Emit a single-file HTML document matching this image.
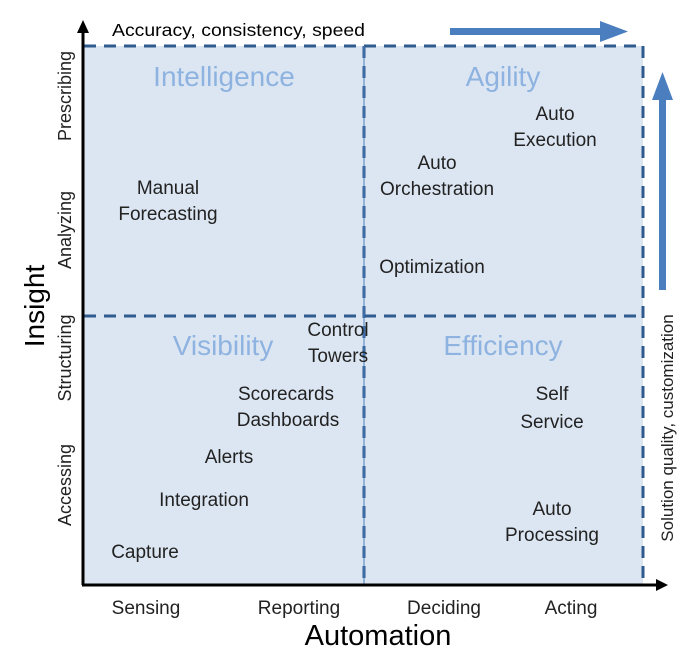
<!DOCTYPE html>
<html><head><meta charset="utf-8"><style>
body{margin:0;background:#fff}
svg text{font-family:"Liberation Sans",sans-serif}
</style></head><body>
<svg width="700" height="659" viewBox="0 0 700 659" xmlns="http://www.w3.org/2000/svg">
<rect x="84" y="46" width="559" height="538" fill="#dce6f2"/>
<g stroke="#2f5b8f" stroke-width="3" stroke-dasharray="12,8" fill="none">
<line x1="84" y1="46" x2="643" y2="46"/>
<line x1="643" y1="46" x2="643" y2="584"/>
<line x1="84" y1="316" x2="643" y2="316"/>
<line x1="364" y1="46" x2="364" y2="584"/>
</g>
<line x1="364" y1="46" x2="364" y2="584" stroke="#4a7ebf" stroke-width="1"/>
<g stroke="#000" stroke-width="3">
<line x1="83" y1="30" x2="83" y2="585"/>
<line x1="82" y1="585" x2="660" y2="585"/>
</g>
<polygon points="83,20 77,33 89,33" fill="#000"/>
<polygon points="668,585 656,579 656,591" fill="#000"/>
<rect x="450" y="28" width="152" height="7" fill="#4a7ebf"/>
<polygon points="600,21 628,31.5 600,42" fill="#4a7ebf"/>
<rect x="659" y="98" width="7" height="192" fill="#4a7ebf"/>
<polygon points="652,100 662.5,72 673,100" fill="#4a7ebf"/>
<text x="112" y="36" font-size="17.5" textLength="253" lengthAdjust="spacingAndGlyphs">Accuracy, consistency, speed</text>
<g font-size="28" fill="#8eb3e0" text-anchor="middle">
<text x="224" y="86">Intelligence</text>
<text x="503" y="86">Agility</text>
<text x="223" y="355">Visibility</text>
<text x="503" y="355">Efficiency</text>
</g>
<g font-size="19" fill="#222" text-anchor="middle">
<text x="555" y="120">Auto</text><text x="555" y="146">Execution</text>
<text x="437" y="169">Auto</text><text x="437" y="195">Orchestration</text>
<text x="168" y="194">Manual</text><text x="168" y="220">Forecasting</text>
<text x="432" y="273">Optimization</text>
<text x="338" y="336">Control</text><text x="338" y="362">Towers</text>
<text x="286" y="400">Scorecards</text><text x="288" y="426">Dashboards</text>
<text x="229" y="463">Alerts</text>
<text x="204" y="506">Integration</text>
<text x="145" y="558">Capture</text>
<text x="552" y="400">Self</text><text x="552" y="428">Service</text>
<text x="552" y="515">Auto</text><text x="552" y="541">Processing</text>
<text x="146" y="614">Sensing</text>
<text x="299" y="614">Reporting</text>
<text x="444" y="614">Deciding</text>
<text x="571" y="614">Acting</text>
</g>
<text x="378" y="645" font-size="29" text-anchor="middle">Automation</text>
<g font-size="18" fill="#222" text-anchor="middle">
<text transform="translate(71,96) rotate(-90)">Prescribing</text>
<text transform="translate(71,230) rotate(-90)">Analyzing</text>
<text transform="translate(71,358) rotate(-90)">Structuring</text>
<text transform="translate(71,485) rotate(-90)">Accessing</text>
</g>
<text transform="translate(673,428) rotate(-90)" font-size="17" fill="#222" text-anchor="middle">Solution quality, customization</text>
<text transform="translate(44,306) rotate(-90)" font-size="28" text-anchor="middle">Insight</text>
</svg>
</body></html>
